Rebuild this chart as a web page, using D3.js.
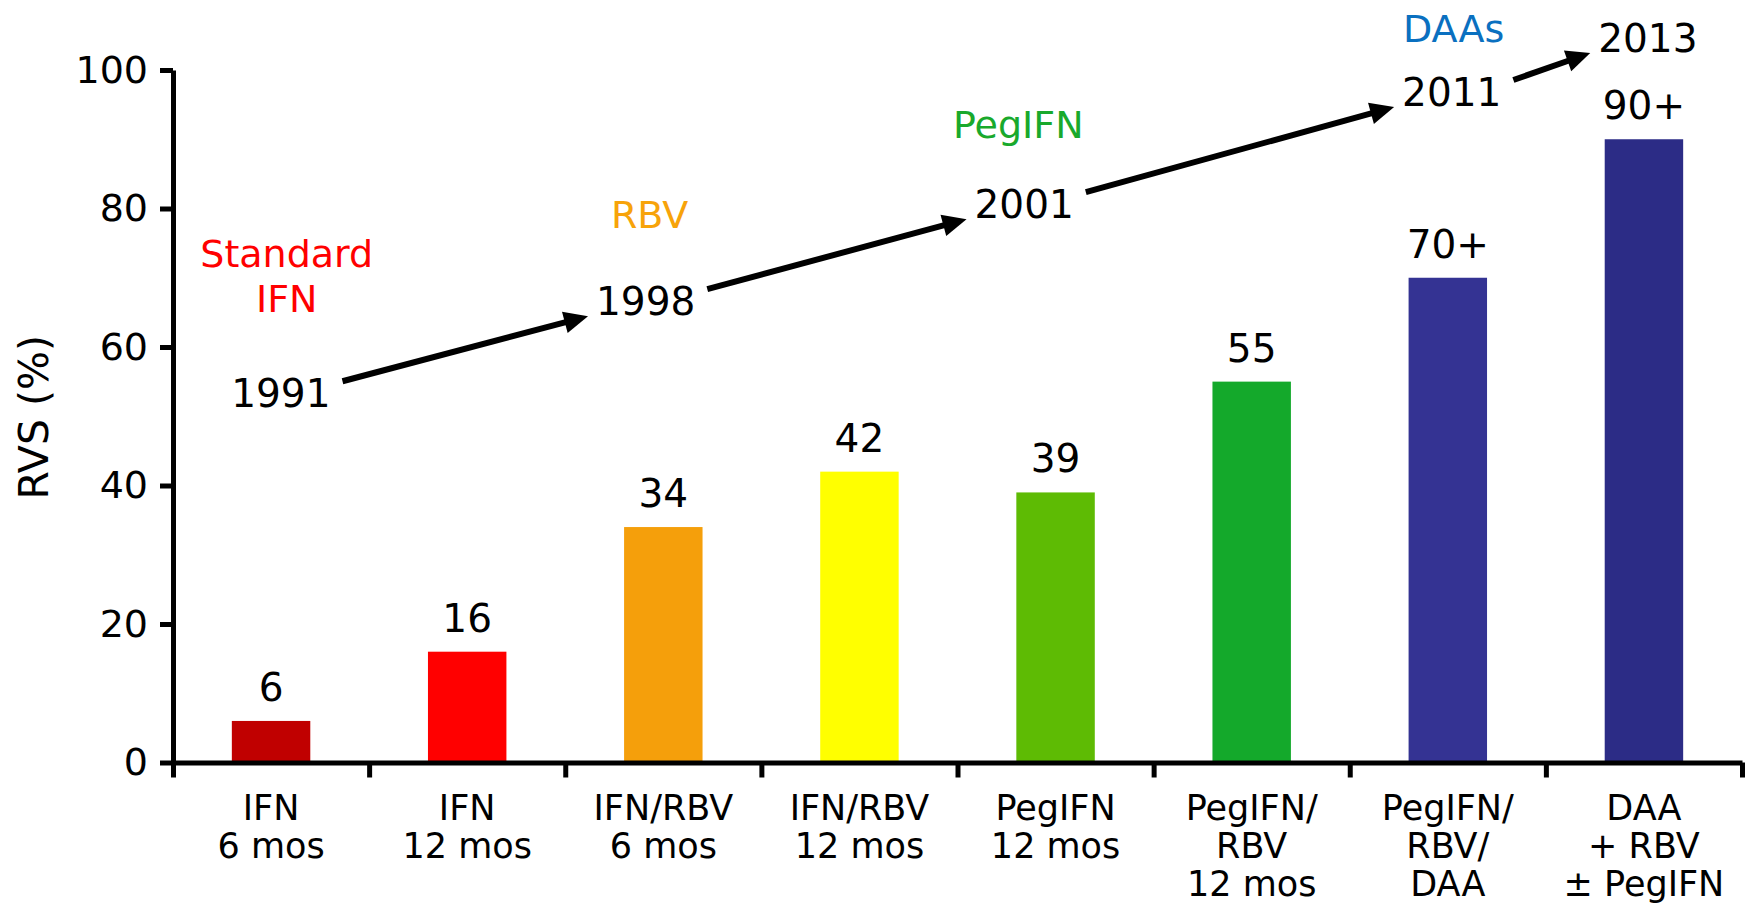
<!DOCTYPE html>
<html><head><meta charset="utf-8">
<script src="https://cdn.jsdelivr.net/npm/d3@7"></script>
<style>
body{margin:0;background:#fff;}
svg text{font-family:"Comic Sans MS","DejaVu Sans",sans-serif;}
</style></head><body>
<svg id="chart" width="1750" height="907"></svg>
<script>
// ---- data ----
const categories = [["IFN","6 mos"],["IFN","12 mos"],["IFN/RBV","6 mos"],["IFN/RBV","12 mos"],["PegIFN","12 mos"],["PegIFN/","RBV","12 mos"],["PegIFN/","RBV/","DAA"],["DAA","+ RBV","\u00B1 PegIFN"]];
const svrValues = [6,16,34,42,39,55,70,90];
const valueLabels = ["6","16","34","42","39","55","70+","90+"];
const barColors = ["#C00000","#FF0000","#F59F0B","#FFFF00","#5EBB04","#14A92B","#343393","#2C2C86"];
const yTicks = [0,20,40,60,80,100];
const yTitle = "RVS (%)";
const milestoneYears = ["1991","1998","2001","2011","2013"];
const milestoneSlot = [0.05,1.91,3.84,6.02,7.02];     // position along categories (index)
const milestoneLevel = [51.3,64.6,78.6,94.8,102.6];   // baseline level in RVS units
const eraNames = [["Standard","IFN"],["RBV"],["PegIFN"],["DAAs"]];
const eraColors = ["#FF0000","#F7A30A","#19A92C","#0A70C0"];
const eraSlot = [0.08,1.93,3.81,6.03];
const eraLevel = [71.6,77.2,90.2,104.0];

// ---- layout ----
(function(){
const svg = d3.select("#chart");
const mLeft = 173, mRight = 1742, mTop = 70, mBottom = 762.5;
const y = d3.scaleLinear().domain([0,100]).range([mBottom, mTop]);
const x = d3.scaleBand().domain(d3.range(categories.length)).range([mLeft,mRight]).paddingInner(0.6).paddingOuter(0.3);
const edge = d3.scaleLinear().domain([0,categories.length]).range([mLeft,mRight]);
const slot = d3.scaleLinear().domain([0,categories.length-1]).range([x(0)+x.bandwidth()/2, x(categories.length-1)+x.bandwidth()/2]);

// bars
svg.append("g").selectAll("rect").data(svrValues).join("rect")
  .attr("x",(d,i)=>x(i)).attr("width",x.bandwidth())
  .attr("y",d=>y(d)).attr("height",d=>y(0)-y(d))
  .attr("fill",(d,i)=>barColors[i]);

// value labels
svg.append("g").selectAll("text").data(svrValues).join("text")
  .attr("x",(d,i)=>x(i)+x.bandwidth()/2).attr("y",d=>y(d)-20)
  .attr("text-anchor","middle").attr("font-size",39).attr("fill","#000")
  .text((d,i)=>valueLabels[i]);

// y axis
const ya = svg.append("g").attr("transform",`translate(${mLeft},0)`)
  .call(d3.axisLeft(y).tickValues(yTicks).tickSize(13).tickSizeOuter(0).tickPadding(12));
ya.attr("font-family",null);
ya.select(".domain").attr("stroke","#000").attr("stroke-width",5);
ya.selectAll(".tick line").attr("stroke","#000").attr("stroke-width",5);
ya.selectAll(".tick text").attr("font-size",38).attr("fill","#000");

// x axis (ticks at category boundaries)
const xa = svg.append("g").attr("transform",`translate(0,${mBottom})`)
  .call(d3.axisBottom(edge).tickValues(d3.range(categories.length+1)).tickSize(15).tickSizeOuter(0).tickFormat(""));
xa.select(".domain").attr("stroke","#000").attr("stroke-width",5);
xa.selectAll(".tick line").attr("stroke","#000").attr("stroke-width",5);

// category labels
const cl = svg.append("g").selectAll("text").data(categories).join("text")
  .attr("text-anchor","middle").attr("font-size",35).attr("fill","#000");
cl.each(function(lines,i){
  const t = d3.select(this);
  lines.forEach((s,k)=>{
    t.append("tspan").attr("x",x(i)+x.bandwidth()/2).attr("y",mBottom+57+38*k).text(s);
  });
});

// y title
svg.append("text").attr("transform",`translate(48,${(y(0)+y(100))/2+1}) rotate(-90)`)
  .attr("text-anchor","middle").attr("font-size",41).attr("fill","#000").text(yTitle);

// era names
eraNames.forEach((lines,i)=>{
  const t = svg.append("text").attr("text-anchor","middle").attr("font-size",38).attr("fill",eraColors[i]);
  lines.forEach((s,k)=>{
    t.append("tspan").attr("x",slot(eraSlot[i])).attr("y",y(eraLevel[i])+45*k).text(s);
  });
});

// milestone years
const yrs = svg.append("g").selectAll("text").data(milestoneYears).join("text")
  .attr("x",(d,i)=>slot(milestoneSlot[i])).attr("y",(d,i)=>y(milestoneLevel[i]))
  .attr("text-anchor","middle").attr("font-size",39).attr("fill","#000").text(d=>d);

// arrows between years
const boxes = yrs.nodes().map(n=>n.getBBox());
const ag = svg.append("g");
for(let i=0;i<boxes.length-1;i++){
  const b0 = boxes[i], b1 = boxes[i+1];
  const x0 = b0.x+b0.width+12, y0 = y(milestoneLevel[i])-26;
  const x1 = b1.x-8, y1 = y(milestoneLevel[i+1])+1;
  const dx = x1-x0, dy = y1-y0, L = Math.hypot(dx,dy);
  const ux = dx/L, uy = dy/L, nx = -uy, ny = ux;
  const hl = 24, hw = 11;
  const bx = x1-hl*ux, by = y1-hl*uy;
  ag.append("line").attr("x1",x0).attr("y1",y0).attr("x2",bx+3*ux).attr("y2",by+3*uy)
    .attr("stroke","#000").attr("stroke-width",6);
  ag.append("path").attr("d",`M${x1},${y1}L${bx+hw*nx},${by+hw*ny}L${bx-hw*nx},${by-hw*ny}Z`).attr("fill","#000");
}
})();
</script>
</body></html>
